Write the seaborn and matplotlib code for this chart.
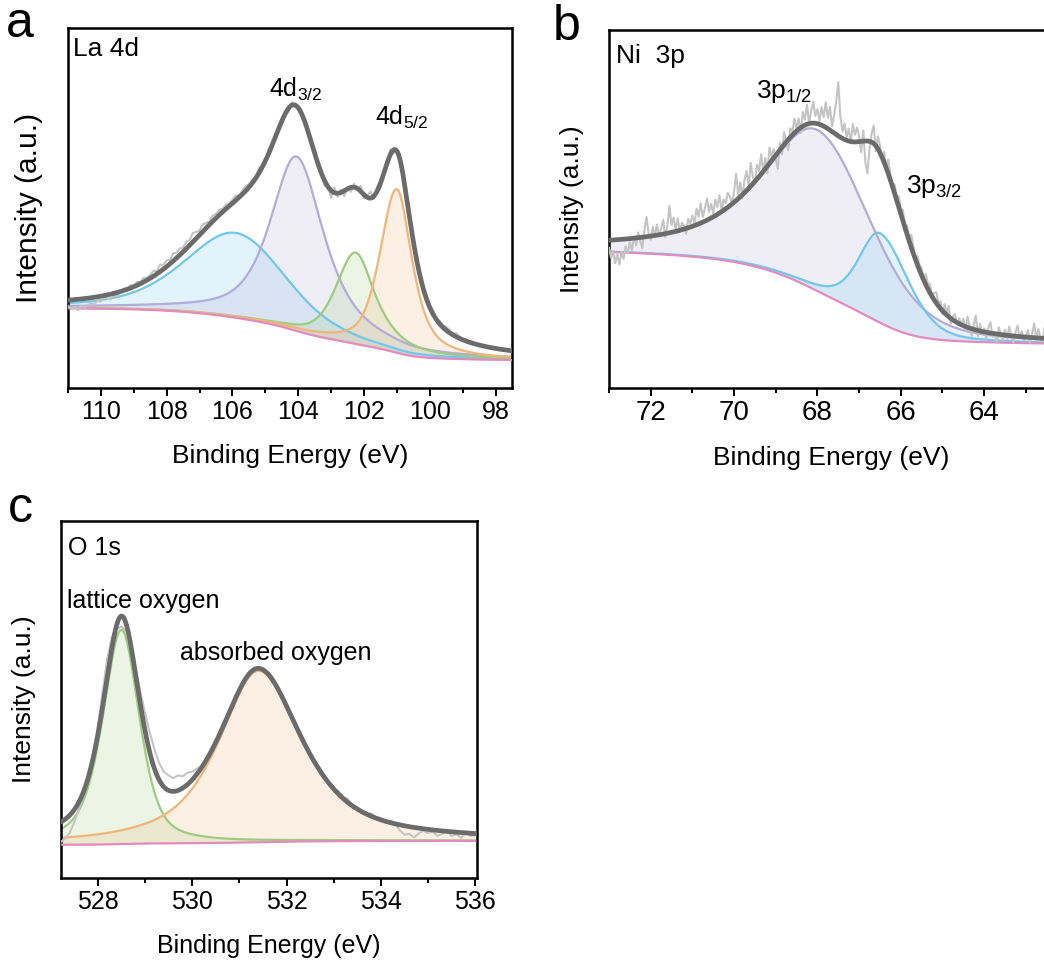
import numpy as np
import matplotlib
matplotlib.use("Agg")
import matplotlib.pyplot as plt
from matplotlib.ticker import MultipleLocator
import seaborn as sns

sns.set_theme(style="ticks")
plt.rcParams["font.family"] = ["Liberation Sans", "DejaVu Sans"]
plt.rcParams["mathtext.fontset"] = "custom"
plt.rcParams["mathtext.rm"] = "Liberation Sans"
plt.rcParams["mathtext.default"] = "regular"
for key in ("text.color", "axes.labelcolor", "xtick.color", "xtick.labelcolor",
            "axes.edgecolor"):
    plt.rcParams[key] = "black"

# ---------------------------------------------------------------- La 4d
la_energy = np.linspace(111.0, 97.5, 136)          # measurement grid (eV)
# measured counts minus fitted envelope (a.u.)
la_dev = [-1.5, -2.5, -2, -3, -2, -2.5,
          -2, -1.5, -2, -1, -1.5, -0.5, -1, -1.5, -0.5, -1,
          0, 0.5, -0.5, 0.8, 0.2, 1, 0.5, 1.2, 0.6, 1,
          1.5, 0.8, 2, 1.2, 1.8, 1, 2.2, 1.5, 1.8, 1.2,
          2, 1.5, 2.5, 1.8, 1.2, 2, 1.5, 1, 1.6, 1.2,
          1.5, 0.8, 1.2, 0.5, 1, 1.3, 0.6, 0.9, 1.4, 0.8,
          1, -0.5, 1.5, 0.2, -0.8, 1.2, 0.5, -0.5, 1, 0.3,
          0.5, -1, 0.8, -0.5, 0.5, 1, -0.5, -1, 0.5, -0.8,
          -1, 1, -1.5, 0.5, -2, 1.5, -1, 0.8, -1.5, 0.5,
          -1.2, 1, -0.5, 1.5, -1, 0.5, 1.8, -0.8, 1.2, 0.5,
          1, -0.5, 1.5, -1, 0.5, -0.8, 0.8, 1.2, -0.5, 0.5,
          1, 1.5, 0.8, 1.2, 0.5, 1, 0.3, 0.8, 0.5, 1,
          0.8, 0.3, 1, 0.5, 0, 0.6, -0.3, 0.4, 0, 0.3,
          0, 0.3, -0.3, 0.2, 0, -0.4, 0.2, 0, -0.2, 0]
la_bg_levels = (7.7, 22.1)                         # Shirley: low-BE / high-BE level
la_center = [105.9, 104.05, 102.25, 101.0]
la_height = [23.6, 48.5, 25.4, 45.5]
la_hw_lo = [1.8, 1.0, 0.7, 0.55]
la_hw_hi = [1.85, 0.95, 0.7, 0.6]
la_eta_lo = [0.35, 0.8, 0.9, 0.75]
la_eta_hi = [0.5, 0.72, 0.5, 0.5]

# ---------------------------------------------------------------- Ni 3p
ni_energy = np.linspace(73.0, 62.3, 215)
ni_dev = [-2, -5, -3, -6.5, -4, -7, -3.5, -5.5, -2, -4,
          -1, -3.5, 0.5, -2, 1.5, -1, -3, 2, 5.5, 1,
          -1, 2.5, -0.5, 3, 0, 1.5, 4, -1, 2, 7.5,
          2, 4, 0.5, 3.5, -0.5, 2, 1, -1.5, 2.5, 1,
          3, 0.5, 4.5, 2, 5.5, 1.5, 3.5, 6, 2, 4,
          1, 4.5, 2, 5, 0.5, 3, 1.5, 4, 2.5, 0,
          3, 7.5, 1, 4, -1, 3.5, 5.5, 0.5, 6.5, 2,
          -0.5, 4, 1.5, 5.5, 0, 3, -2, 4.5, 1, 2.5,
          -1, -4.5, 2, -2, 3.5, 0.5, -3, 2.5, 1, 4,
          0.5, 3, -1.5, 4, 1.5, 5.5, 0, 3.5, 6, 2,
          4, 1, 5, 2.5, 7, 3, 6.5, 1.5, 5, 9,
          15, 6, 2, 4.5, 1, 3.5, -0.5, 5, 2, 4,
          1.5, -3, 3, -6, -9, -2, 2.5, 5, -1.5, 3.5,
          2, -1, 3, 0.5, 4, 1.5, -0.5, 2.5, 1, 3,
          1.5, 3, 0.5, 2.5, 1, 3.5, 2, 0, 2.5, 1.5,
          2, 0.5, 3, 1.5, 2.5, 0, 2, 3, 1, 2,
          -1, 2.5, 0.5, 3, -1.5, 1, 2, -0.5, 1.5, 0,
          2, -1, 3, 0.5, -2, 1.5, 4, -1.5, 2, -0.5,
          1, -2, 1.5, 3, -1, 0.5, -2.5, 2, 0, -1.5,
          1.5, -1, 2.5, 0, -2, 1, 3, -0.5, 1.5, -1,
          0.5, 2, -1.5, 1, 4, -0.5, 2.5, 0, -1, 3,
          5, 0.5, -1, 2, 1]
ni_bg_levels = (12.4, 38.0)
ni_center = [68.0, 66.5]
ni_height = [45.0, 25.0]
ni_hw_lo = [1.5, 0.8]
ni_hw_hi = [1.55, 0.6]
ni_eta_lo = [0.35, 0.3]
ni_eta_hi = [0.8, 0.46]

# ---------------------------------------------------------------- O 1s
o_energy = np.linspace(527.2, 536.0, 89)
o_dev = [-5.6, -5.4, -5, -3.5, -2, -1, -0.3, 0.5,
         2, 4, 5, 3, -1, -3, -2, 0, 1.5, 3.5,
         5, 5.5, 5.5, 4.7, 4.2, 4.2, 3.7, 4.2, 3.3, 3.3,
         2.3, 1.5, 0.5, 0, 0.2, -0.2, 0, 0.3, -0.2, 0,
         0.2, -0.3, 0.4, -0.5, 0, 0.3, -0.4, 0.2, 0, 0.3,
         0.5, 0.2, 0.6, 0.3, 0, 0.5, 0.2, 0.7, 0.3, 0.5,
         0.2, 0.8, 0.4, 1, 0, 0.6, -0.5, 0.3, 0.8, 0.2,
         0.5, -0.3, 0.6, 0, -1.5, -2.5, -2, -2.8, -1.5, -0.5,
         -1, -0.5, -1.5, -0.8, 0, -1.2, -0.5, -1.5, 0, -0.8,
         -0.5]
o_bg_levels = (9.3, 10.4)
o_center = [528.5, 531.4]
o_height = [60.0, 48.0]
o_hw_lo = [0.47, 1.0]
o_hw_hi = [0.45, 1.1]
o_eta_lo = [0.6, 0.75]
o_eta_hi = [0.5, 0.75]

C_BLUE, C_PURPLE, C_GREEN, C_ORANGE = "#72c7ee", "#b2acd8", "#9dcc7f", "#f1b57a"
C_BG, C_RAW, C_ENV = "#e48bbd", "#c4c4c4", "#6b6b6b"


def pseudo_voigt(e, c, h, hw_lo, hw_hi, eta_lo, eta_hi):
    below = e < c
    hw = np.where(below, hw_lo, hw_hi)
    eta = np.where(below, eta_lo, eta_hi)
    x = (e - c) / hw
    return h * (eta / (1 + x ** 2) + (1 - eta) * np.exp(-np.log(2) * x ** 2))


def shirley(e, total, lo, hi):
    # e ascending: background climbs with the peak area on the low-BE side
    cum = np.cumsum(total)
    return lo + (hi - lo) * cum / cum[-1]


def draw_panel(ax, e_min, e_max, params, colors, bg_levels, e_raw, dev):
    e = np.linspace(e_min, e_max, 2500)
    peaks = [pseudo_voigt(e, *p) for p in zip(*params)]
    total = np.sum(peaks, axis=0)
    bg = shirley(e, total, *bg_levels)
    for pk, col in zip(peaks, colors):
        ax.fill_between(e, bg, bg + pk, color=col, alpha=0.2, lw=0, zorder=1)
    for pk, col in zip(peaks, colors):
        sns.lineplot(x=e, y=bg + pk, ax=ax, color=col, lw=1.6,
                     sort=False, estimator=None, zorder=2)
    sns.lineplot(x=e, y=bg, ax=ax, color=C_BG, lw=1.6,
                 sort=False, estimator=None, zorder=3)
    env = bg + total
    raw = np.interp(e_raw, e, env) + np.asarray(dev)
    sns.lineplot(x=e_raw, y=raw, ax=ax, color=C_RAW, lw=1.5,
                 sort=False, estimator=None, zorder=4)
    sns.lineplot(x=e, y=env, ax=ax, color=C_ENV, lw=3.4,
                 sort=False, estimator=None, zorder=5)


def style_axes(ax, xlim, tick_fs, xlab_fs, ylab_fs):
    ax.set_xlim(*xlim)
    ax.set_ylim(0, 100)
    ax.set_yticks([])
    ax.xaxis.set_major_locator(MultipleLocator(2))
    ax.xaxis.set_minor_locator(MultipleLocator(1))
    ax.tick_params(axis="x", which="major", direction="out", length=6,
                   width=1.4, labelsize=tick_fs, pad=3, color="black")
    ax.tick_params(axis="x", which="minor", direction="out", length=3.5,
                   width=1.4, color="black")
    for s in ax.spines.values():
        s.set_visible(True)
        s.set_linewidth(1.8)
        s.set_color("black")
    ax.set_xlabel("Binding Energy (eV)", fontsize=xlab_fs, labelpad=14)
    ax.set_ylabel("Intensity (a.u.)", fontsize=ylab_fs, labelpad=18)


fig = plt.figure(figsize=(10.44, 9.63), dpi=100)
ax_a = fig.add_axes([0.0651, 0.5974, 0.4253, 0.3735])
ax_b = fig.add_axes([0.5833, 0.5971, 0.4253, 0.3717])
ax_c = fig.add_axes([0.0584, 0.0883, 0.3982, 0.3707])

draw_panel(ax_a, 97.5, 111.0,
           (la_center, la_height, la_hw_lo, la_hw_hi, la_eta_lo, la_eta_hi),
           [C_BLUE, C_PURPLE, C_GREEN, C_ORANGE], la_bg_levels, la_energy, la_dev)
style_axes(ax_a, (111.0, 97.5), 18, 19, 21.5)
ax_a.text(0.011, 0.921, "La 4d", transform=ax_a.transAxes, fontsize=19,
          ha="left", va="baseline")
ax_a.text(104.9, 80.9, "4d$_{3/2}$", fontsize=18, ha="left", va="baseline")
ax_a.text(101.65, 73.1, "4d$_{5/2}$", fontsize=18, ha="left", va="baseline")

draw_panel(ax_b, 62.3, 73.0,
           (ni_center, ni_height, ni_hw_lo, ni_hw_hi, ni_eta_lo, ni_eta_hi),
           [C_PURPLE, C_BLUE], ni_bg_levels, ni_energy, ni_dev)
style_axes(ax_b, (73.0, 62.35), 20, 19, 19)
ax_b.text(0.016, 0.909, "Ni  3p", transform=ax_b.transAxes, fontsize=19,
          ha="left", va="baseline")
ax_b.text(69.48, 80.9, "3p$_{1/2}$", fontsize=19, ha="left", va="baseline")
ax_b.text(65.88, 54.5, "3p$_{3/2}$", fontsize=19, ha="left", va="baseline")

draw_panel(ax_c, 527.2, 536.0,
           (o_center, o_height, o_hw_lo, o_hw_hi, o_eta_lo, o_eta_hi),
           [C_GREEN, C_ORANGE], o_bg_levels, o_energy, o_dev)
style_axes(ax_c, (527.22, 536.03), 18, 18, 19)
ax_c.text(0.018, 0.905, "O 1s", transform=ax_c.transAxes, fontsize=18,
          ha="left", va="baseline")
ax_c.text(527.34, 75.6, "lattice oxygen", fontsize=18, ha="left", va="baseline")
ax_c.text(529.75, 61.1, "absorbed oxygen", fontsize=18, ha="left", va="baseline")

fig.text(0.006, 0.962, "a", fontsize=36, ha="left", va="baseline")
fig.text(0.529, 0.958, "b", fontsize=36, ha="left", va="baseline")
fig.text(0.008, 0.458, "c", fontsize=36, ha="left", va="baseline")

fig.savefig("out.png", dpi=100)
